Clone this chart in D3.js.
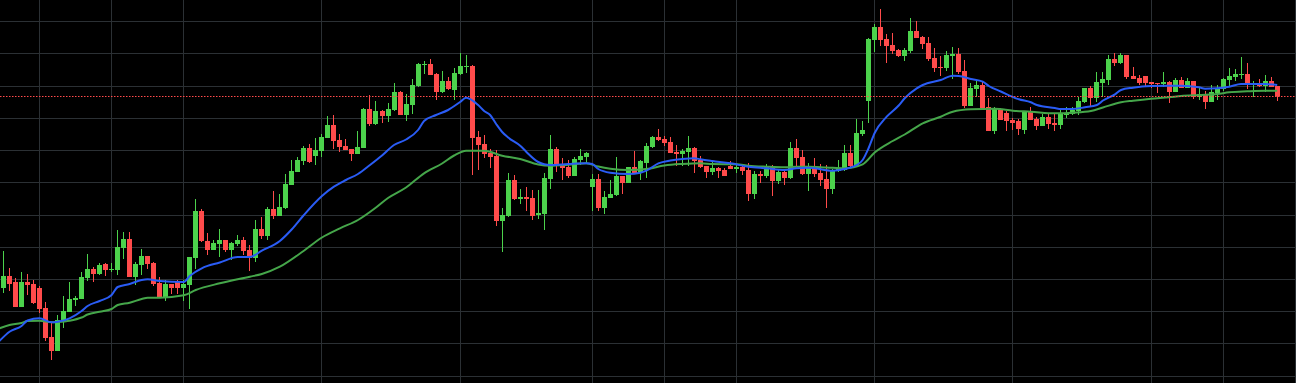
<!DOCTYPE html>
<html>
<head>
<meta charset="utf-8">
<script src="https://cdn.jsdelivr.net/npm/d3@7"></script>
<style>
    html, body { margin: 0; padding: 0; background: #000; overflow: hidden; }
    svg { display: block; }
</style>
</head>
<body>
<svg id="chart" width="1296" height="383"></svg>
<script>
// one value per candle, oldest first
const OPENS = [
    95,107,101,76,101,99,95,75,46,32,
    62,71,83,84,105,114,109,119,113.5,113,
    135,144,106,118,127,120,100,86,99,101,
    95,98,125,172,142,133,139,143,133,139,
    143,133,125,154,147,174,167,175,198,211,
    222,235,227,232,245,258,243,237,234,229,
    235,274,259,272,267,273,291,268,278,297,
    318,319,309,291,302,293,309,316,317,246,
    239,230,227,162,167,203,184,186,185,168,
    169,204,234,218,216,207,223,226,196,204,
    175,185,188,207,200,216,210,220,236,246,
    244,241,231,229,231,235,223,217,211,215,
    213,217,214,216,213,189,209,207,216,202,
    211,205,235,226,209,217,210,204,194,212,
    213,230,217,249,282,343,356,344,338,333,
    327,332,352,346,340,325,316,315,327,329,
    312,277,294,298,276,252,274,270,263,262,
    253,271,264,257,266,260,258,268,269,272,
    281,295,285,300,303,324,320,328,307,305,
    307,301,300,299,301,291,303,295,302,286,
    289,281,290,294,303,306,308,309,298,300,
    297,302,297
];
const HIGHS = [
    132,115,105,111,109,103,97,81,61,68,
    87,101,87,111,129,116,120,120,120,153,
    151,151,121,134,127,121,106,103,99,103,
    103,126,184,174,150,143,154,143,141,148,
    146,138,163,166,176,192,189,209,223,226,
    237,239,245,249,267,268,249,244,234,252,
    275,288,282,273,280,300,292,289,304,320,
    322,324,310,312,306,315,330,328,318,252,
    248,234,233,175,210,208,194,196,193,193,
    210,248,236,225,223,226,234,231,209,209,
    192,203,226,207,216,232,223,240,247,254,
    247,246,238,234,247,236,227,217,222,216,
    215,222,219,219,220,212,212,219,218,213,
    214,241,244,233,220,225,219,218,214,223,
    238,238,264,262,345,359,374,349,350,334,
    335,365,362,347,346,335,327,332,336,335,
    323,300,303,301,285,276,275,272,265,264,
    272,276,266,269,269,269,274,276,276,286,
    295,297,311,311,328,330,330,328,316,308,
    307,301,300,311,302,305,306,305,302,295,
    292,298,298,305,315,314,326,320,302,304,
    308,306,297
];
const LOWS = [
    90,92,76,76,88,79,70,42,23,32,
    55,71,77,84,102,101,108,107,111,108,
    124,106,98,108,114,97,86,82,89,89,
    82,74,114,141,128,133,126,131,123,137,
    128,112,121,144,143,164,167,174,198,211,
    218,220,218,226,245,234,231,233,222,229,
    235,257,258,260,261,272,268,262,269,296,
    309,308,283,290,293,283,308,310,208,213,
    225,215,157,131,166,183,179,172,163,164,
    153,194,211,203,205,207,218,220,172,172,
    169,185,187,189,200,210,203,205,235,242,
    237,230,217,217,217,210,215,205,208,205,
    207,214,210,208,182,184,200,205,187,199,
    198,204,216,208,192,206,197,175,189,211,
    212,215,217,247,260,331,337,320,329,326,
    322,330,345,334,322,311,307,312,304,309,
    275,277,286,275,252,249,263,252,253,248,
    249,263,253,257,254,252,254,265,268,268,
    280,277,281,286,298,317,319,304,304,298,
    297,295,290,296,280,291,295,295,284,283,
    274,281,283,292,297,302,304,294,286,296,
    291,296,282
];
const CLOSES = [
    107,99,76,101,98,80,74,45,32,63,
    72,84,85,106,114,109,118,113,114,136,
    144,106,119,127,119,99,86,99,95,95,
    99,126,172,142,133,140,143,133,140,143,
    132,125,154,147,174,167,176,199,212,223,
    235,221,233,246,258,242,236,233,229,236,
    274,259,272,267,274,291,268,279,298,319,
    319,308,291,302,294,310,317,317,245,238,
    229,226,162,168,203,184,186,184,167,170,
    205,234,217,215,207,224,227,230,204,175,
    186,189,207,200,216,210,222,237,246,243,
    240,230,229,232,235,222,216,211,215,212,
    207,214,216,212,189,209,207,216,202,211,
    205,235,225,209,217,209,203,194,213,214,
    230,217,250,253,344,356,343,337,332,327,
    333,352,345,339,324,315,315,328,329,311,
    277,295,298,275,252,274,263,262,260,254,
    271,263,257,266,259,258,269,270,273,282,
    295,285,301,304,324,320,328,306,304,300,
    300,299,299,301,291,303,295,302,286,289,
    281,291,295,304,307,309,309,298,300,297,
    302,296,286.5
];

// moving averages: [candle index, value]
const FAST_MA = [
    [-1,40],[1,51.3],[3,57],[4,62.5],[6,64.7],[8,60.7],[9,61.3],[11,64.7],[13,72],[14,77],
    [16,82],[18,88],[19,96],[21,99],[23,103],[24,103.7],[26,102],[30,101],[31,107],[33,114.7],
    [36,120.5],[39,126],[41,126],[43,132.3],[46,142],[48,153.7],[50,168],[53,187],[55,196.3],[57,203],
    [59,209],[61,218],[63,227.5],[65,238],[67,243.5],[69,253],[70,262],[72,268],[74,273],[76,281],
    [77,285.3],[79,278],[80,272],[81,268],[82,259],[83,251],[84,245.5],[86,237.3],[87,231.3],[89,221],
    [90,218.7],[91,218],[94,219],[97,219.7],[98,219],[99,214],[101,210.3],[104,209],[106,210.3],[107,212.3],
    [109,219.7],[111,222.5],[113,224],[115,224.7],[116,223.7],[118,222],[121,219.7],[124,216.3],[127,214.7],[130,213],
    [132,214.7],[134,215.3],[138,212.3],[140,214],[142,218],[143,223],[144,235],[145,250],[147,266.3],[149,277.5],
    [150,284.7],[152,294.7],[153,298],[156,303],[158,307.3],[159,307],[161,304],[163,301.3],[164,297],[166,291.5],
    [169,283.7],[171,280.7],[172,278],[175,275],[176,274],[178,274],[180,275.7],[182,278],[183,282.5],[185,288.7],
    [186,293],[188,295.3],[191,297],[194,297.3],[196,297.3],[199,295.7],[200,294.3],[202,294.7],[204,296.3],[206,299],
    [208,299],[210,299],[212,298]
];
const SLOW_MA = [
    [-1,54],[1,58],[3,60],[4,62],[6,62.3],[8,60.7],[9,61],[11,62.3],[13,65.5],[14,68.5],
    [16,71.3],[18,74],[19,78],[21,80.3],[23,84],[24,85.3],[26,85.3],[30,87.7],[32,93],[36,99.7],
    [41,106.3],[43,109],[46,116.3],[50,132.3],[53,145.5],[56,154.7],[59,163],[62,175.5],[64,185],[67,195.5],
    [70,209.7],[73,219.5],[75,227.5],[77,232.3],[80,232.3],[83,227.3],[86,224],[89,218.5],[91,217.3],[94,218.3],
    [97,219.7],[99,216.5],[101,214.3],[104,213],[107,214],[110,217.5],[113,219],[116,219.7],[118,219],[122,218.7],
    [124,217.3],[127,216.3],[130,215.7],[132,216.3],[134,216.3],[137,215.5],[140,214.7],[143,218.7],[145,230.5],[148,242],
    [150,248.5],[153,259.7],[156,266.3],[158,271.3],[161,273.7],[165,274.3],[168,272.3],[171,271.3],[175,269.7],[178,270.3],
    [181,272],[183,275.5],[186,280.7],[188,282.3],[191,284.3],[194,285.7],[196,287],[199,288],[202,289],[204,290.7],
    [207,291.7],[210,292.3],[212,292.3]
];

const GRID_PRICES = [7.5, 39.7, 71.9, 104.1, 136.3, 168.5, 200.7, 232.9, 265.1, 297.3, 329.5, 361.7];
const GRID_CANDLES = [6, 18, 30, 53, 76, 98, 110, 122, 145, 168, 191, 203, 215];

const UP_COLOR = "#4cd24c";
const DOWN_COLOR = "#ff4b4b";


class CandleChart {
    constructor(selector) {
        this.svg = d3.select(selector);
        this.width = +this.svg.attr("width");
        this.height = +this.svg.attr("height");

        this.candles = OPENS.map((o, i) => ({
            i: i, open: o, high: HIGHS[i], low: LOWS[i], close: CLOSES[i]
        }));

        this.initScales();
        this.drawGrid();
        this.drawCandles();
        this.drawAverages();
        this.drawLastPrice();
    }

    initScales() {
        this.x = d3.scaleLinear()
            .domain([0, this.candles.length - 1])
            .range([3.5, 1277.2]);
        this.y = d3.scaleLinear()
            .domain([0, 383])
            .range([this.height, 0]);
    }

    drawGrid() {
        let self = this;
        let grid = this.svg.append("g")
            .attr("stroke", "#2b3034")
            .attr("stroke-width", 1);

        grid.selectAll("line.h")
            .data(GRID_PRICES)
            .enter()
            .append("line")
            .attr("class", "h")
            .attr("x1", 0)
            .attr("x2", this.width)
            .attr("y1", d => Math.round(self.y(d)) + 0.5)
            .attr("y2", d => Math.round(self.y(d)) + 0.5);

        grid.selectAll("line.v")
            .data(GRID_CANDLES)
            .enter()
            .append("line")
            .attr("class", "v")
            .attr("y1", 0)
            .attr("y2", this.height)
            .attr("x1", d => Math.floor(self.x(d)) + 0.5)
            .attr("x2", d => Math.floor(self.x(d)) + 0.5);
    }

    drawCandles() {
        let self = this;
        let color = d => d.close >= d.open ? UP_COLOR : DOWN_COLOR;

        let g = this.svg.append("g")
            .selectAll("g")
            .data(this.candles)
            .enter()
            .append("g");

        g.append("line")
            .attr("x1", d => Math.floor(self.x(d.i)) + 0.5)
            .attr("x2", d => Math.floor(self.x(d.i)) + 0.5)
            .attr("y1", d => self.y(d.high))
            .attr("y2", d => self.y(d.low))
            .attr("stroke", color)
            .attr("stroke-width", 1);

        g.append("rect")
            .attr("x", d => Math.floor(self.x(d.i)) - 2)
            .attr("width", 5)
            .attr("y", d => self.y(Math.max(d.open, d.close)))
            .attr("height", d => Math.max(1, Math.abs(self.y(d.open) - self.y(d.close))))
            .attr("fill", color);
    }

    drawAverages() {
        let self = this;
        let line = d3.line()
            .x(d => self.x(d[0]))
            .y(d => self.y(d[1]))
            .curve(d3.curveMonotoneX);

        this.svg.append("path")
            .datum(SLOW_MA)
            .attr("d", line)
            .attr("fill", "none")
            .attr("stroke", "#45a64a")
            .attr("stroke-width", 2);

        this.svg.append("path")
            .datum(FAST_MA)
            .attr("d", line)
            .attr("fill", "none")
            .attr("stroke", "#2a5cf5")
            .attr("stroke-width", 2);
    }

    drawLastPrice() {
        let last = CLOSES[CLOSES.length - 1];
        this.svg.append("line")
            .attr("x1", 0)
            .attr("x2", this.width)
            .attr("y1", this.y(last))
            .attr("y2", this.y(last))
            .attr("stroke", DOWN_COLOR)
            .attr("stroke-width", 1)
            .attr("stroke-dasharray", "1.5,1.5");
    }
}

var chart = new CandleChart("#chart");
</script>
</body>
</html>
